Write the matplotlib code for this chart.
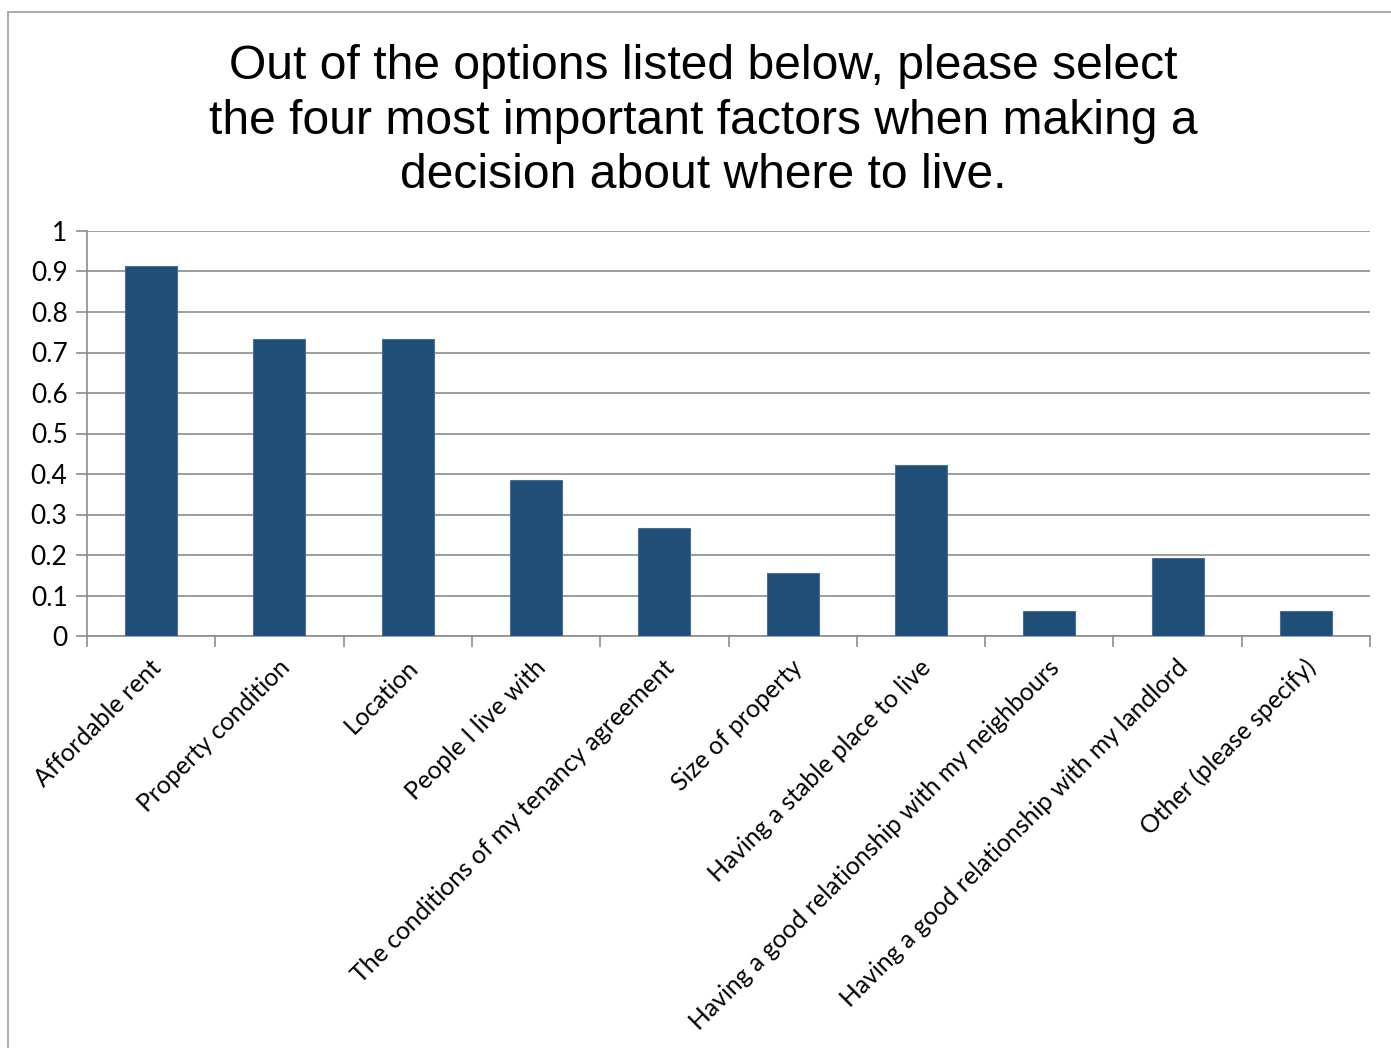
import matplotlib
matplotlib.use("Agg")
from matplotlib import pyplot as plt
from matplotlib.patches import Rectangle
from matplotlib.ticker import FixedLocator, FuncFormatter

factors = [
    "Affordable rent",
    "Property condition",
    "Location",
    "People I live with",
    "The conditions of my tenancy agreement",
    "Size of property",
    "Having a stable place to live",
    "Having a good relationship with my neighbours",
    "Having a good relationship with my landlord",
    "Other (please specify)",
]
shares = [0.914, 0.733, 0.733, 0.385, 0.267, 0.156, 0.422, 0.062, 0.193, 0.062]
y_ticks = [0, 0.1, 0.2, 0.3, 0.4, 0.5, 0.6, 0.7, 0.8, 0.9, 1]

title = ("Out of the options listed below, please select\n"
         "the four most important factors when making a\n"
         "decision about where to live.")

W, H = 1391, 1048
fig = plt.figure(figsize=(W / 100, H / 100), dpi=100)

# outer chart frame
fig.patches.append(Rectangle((8 / W, -0.05), 1.2, 1 - 12 / H + 0.05,
                             transform=fig.transFigure, fill=False,
                             edgecolor="#a6a6a6", linewidth=1.3))

ax = fig.add_axes([87 / W, 1 - 636 / H, (1370 - 87) / W, (636 - 231) / H])

x = list(range(len(factors)))
ax.bar(x, shares, width=0.405, color="#1f4e79", edgecolor="#4a6f93",
       linewidth=0.8, zorder=3)

ax.set_xlim(-0.5, len(factors) - 0.5)
ax.set_ylim(0, 1)
ax.yaxis.set_major_locator(FixedLocator(y_ticks))
ax.yaxis.set_major_formatter(FuncFormatter(lambda v, p: f"{v:g}"))
ax.grid(axis="y", color="#8c8c8c", linewidth=1.2, zorder=0)

# category boundaries carry the x ticks
ax.set_xticks([i - 0.5 for i in range(len(factors) + 1)])
ax.set_xticklabels([])
ax.tick_params(axis="x", length=8, width=1.2, color="#8c8c8c")
ax.tick_params(axis="y", length=8, width=1.2, color="#8c8c8c",
               labelsize=19, pad=6)
for lab in ax.get_yticklabels():
    lab.set_family("Lato")

for s in ["top", "right"]:
    ax.spines[s].set_visible(False)
for s in ["left", "bottom"]:
    ax.spines[s].set_color("#8c8c8c")
    ax.spines[s].set_linewidth(1.2)

for i, name in enumerate(factors):
    ax.annotate(name, xy=(i, 0), xycoords=("data", "axes fraction"),
                xytext=(4.5, -20), textcoords="offset points",
                rotation=45, rotation_mode="anchor", ha="right", va="center",
                fontsize=17.8, family="Lato")

fig.text(703 / W, 1 - 121 / H, title, ha="center", va="center",
         fontsize=34.6, family="Liberation Sans", linespacing=1.27)

fig.savefig("out.png", dpi=100, facecolor="white")
